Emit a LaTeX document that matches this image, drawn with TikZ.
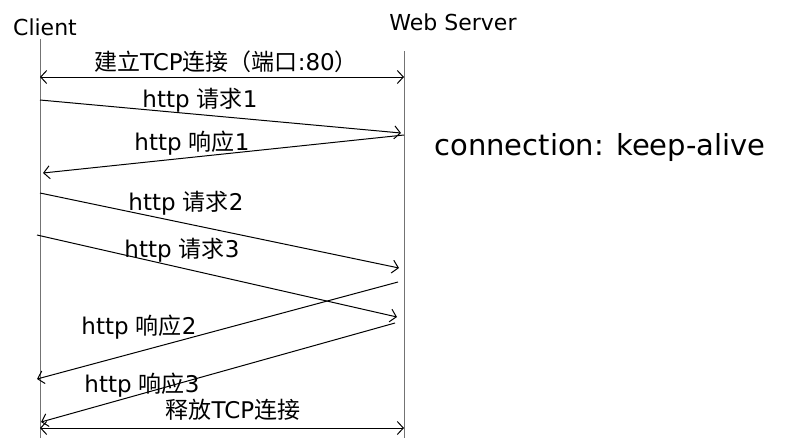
\documentclass[tikz,border=0pt]{standalone}
\usepackage{fontspec}
\usetikzlibrary{arrows.meta}
\setmainfont{DejaVu Sans}
\newfontfamily\cjk{Noto Sans CJK SC}
\begin{document}
\begin{tikzpicture}[x=1pt, y=-1pt, >={Straight Barb[length=6pt, width=13pt]},
    every node/.style={inner sep=0pt},
    msg/.style={->, line width=1pt},
    conn/.style={<->, line width=1pt},
    life/.style={draw=gray!90!black, line width=1pt},
    lbl/.style={font=\fontsize{23}{26}\selectfont}]
    \useasboundingbox (0, 0) rectangle (794, 440);

    \node[font=\fontsize{22}{26}\selectfont] (client) at (45, 27) {Client};
    \node[font=\fontsize{22}{26}\selectfont] (server) at (453, 22) {Web Server};
    \node[font=\fontsize{29}{32}\selectfont] (keep) at (600, 147) {connection: keep-alive};

    \coordinate (ct) at (40, 39);
    \coordinate (cb) at (40, 438);
    \coordinate (st) at (404, 51);
    \coordinate (sb) at (404, 438);
    \draw[life] (ct) -- (cb) (st) -- (sb);

    \coordinate (c0) at (40, 77);
    \coordinate (s0) at (404, 77);
    \coordinate (c1) at (40, 100);
    \coordinate (s1) at (401, 133);
    \coordinate (s2) at (404, 135);
    \coordinate (c2) at (43, 173);
    \coordinate (c3) at (40, 193);
    \coordinate (s3) at (399, 268);
    \coordinate (c4) at (37, 235);
    \coordinate (s4) at (397, 317);
    \coordinate (s5) at (398, 282);
    \coordinate (c5) at (37, 379);
    \coordinate (s6) at (395, 323);
    \coordinate (c6) at (41, 422);
    \coordinate (c7) at (40, 428);
    \coordinate (s7) at (404, 428);

    \draw[conn] (c0) -- (s0);
    \draw[msg] (c1) -- (s1);
    \draw[msg] (s2) -- (c2);
    \draw[msg] (c3) -- (s3);
    \draw[msg] (c4) -- (s4);
    \draw[msg] (s5) -- (c5);
    \draw[msg] (s6) -- (c6);
    \draw[conn] (c7) -- (s7);

    \node[lbl] (open) at (226, 62) {{\cjk 建立}TCP{\cjk 连接（端口}:80{\cjk ）}};
    \node[lbl] (req1) at (200, 100) {http {\cjk 请求}1};
    \node[lbl] (resp1) at (192, 143) {http {\cjk 响应}1};
    \node[lbl] (req2) at (186, 203) {http {\cjk 请求}2};
    \node[lbl] (req3) at (182, 250) {http {\cjk 请求}3};
    \node[lbl] (resp2) at (139, 327) {http {\cjk 响应}2};
    \node[lbl] (resp3) at (142, 385) {http {\cjk 响应}3};
    \node[lbl] (close) at (233, 410) {{\cjk 释放}TCP{\cjk 连接}};
\end{tikzpicture}
\end{document}
